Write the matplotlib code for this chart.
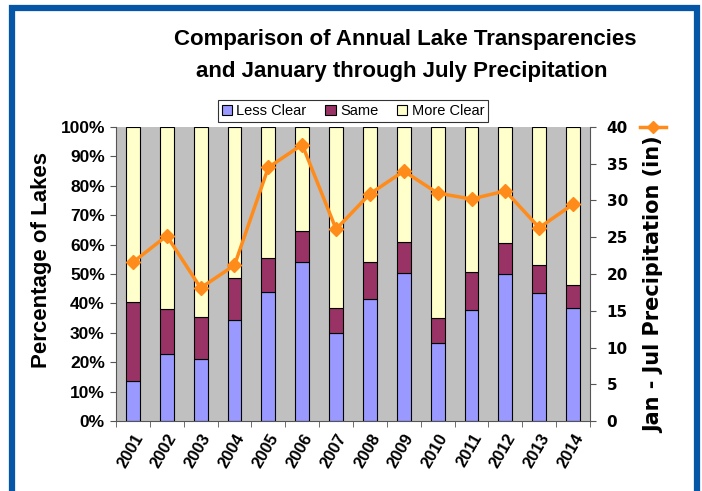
import matplotlib
matplotlib.use("Agg")
import matplotlib.pyplot as plt
from matplotlib.patches import Rectangle, Patch
from matplotlib.lines import Line2D
import numpy as np

years = ["2001", "2002", "2003", "2004", "2005", "2006", "2007",
         "2008", "2009", "2010", "2011", "2012", "2013", "2014"]
less_clear = [13.7, 22.8, 21.0, 34.2, 43.8, 54.2, 29.9, 41.4, 50.3, 26.6, 37.7, 49.9, 43.6, 38.4]
same_top = [40.6, 38.0, 35.3, 48.7, 55.5, 64.6, 38.3, 54.0, 61.0, 35.0, 50.6, 60.5, 53.0, 46.1]
same = [s - l for s, l in zip(same_top, less_clear)]
more_clear = [100 - s for s in same_top]
precip = [21.6, 25.2, 18.1, 21.2, 34.5, 37.6, 26.1, 30.9, 34.0, 31.0, 30.2, 31.3, 26.3, 29.5]

c_less = "#9999FF"
c_same = "#993366"
c_more = "#FFFFCC"
c_line = "#FF8C1A"
sans = ["Liberation Sans", "DejaVu Sans"]

fig = plt.figure(figsize=(7.02, 4.91), dpi=100)
fig.patch.set_facecolor("white")

# blue frame
fig.patches.append(Rectangle((12 / 702, -0.05), (697 - 12) / 702, (491 - 8.5) / 491 + 0.05,
                             transform=fig.transFigure, fill=False,
                             edgecolor="#0656A8", linewidth=4.5, zorder=0))

ax = fig.add_axes([116 / 702, 70 / 491, 474 / 702, 294 / 491])
ax.set_facecolor("#C0C0C0")
x = np.arange(len(years))
w = 0.41
ax.bar(x, less_clear, w, color=c_less, edgecolor="black", linewidth=0.8, label="Less Clear")
ax.bar(x, same, w, bottom=less_clear, color=c_same, edgecolor="black", linewidth=0.8, label="Same")
ax.bar(x, more_clear, w, bottom=same_top, color=c_more, edgecolor="black", linewidth=0.8, label="More Clear")
ax.set_xlim(-0.5, len(years) - 0.5)
ax.set_ylim(0, 100)
ax.set_yticks(np.arange(0, 101, 10))
ax.set_yticklabels([f"{v}%" for v in range(0, 101, 10)], fontsize=12.5, fontweight="bold",
                   family=sans)
ax.set_xticks(x)
ax.set_xticklabels(years, rotation=60, ha="right", rotation_mode="anchor", fontsize=12,
                   fontweight="bold", family=sans)
ax.set_xticks(np.arange(-0.5, len(years), 1), minor=True)
ax.tick_params(axis="x", which="major", length=0, pad=7)
ax.tick_params(axis="x", which="minor", length=4, direction="out", color="#555555")
ax.tick_params(axis="y", length=4, color="#555555", pad=4)
for s in ["top", "right"]:
    ax.spines[s].set_visible(False)
ax.spines["left"].set_color("#555555")
ax.spines["bottom"].set_color("#555555")
ax.set_ylabel("Percentage of Lakes", fontsize=16, fontweight="bold", family=sans)
ax.yaxis.set_label_coords(-64 / 474, 0.548)

ax2 = ax.twinx()
ax2.plot(x, precip, color=c_line, linewidth=2.5, marker="D", markersize=7.5)
ax2.set_ylim(0, 40)
ax2.set_yticks(np.arange(0, 41, 5))
ax2.set_yticklabels([str(v) for v in range(0, 41, 5)], fontsize=11, fontweight="bold",
                    family=["DejaVu Sans"])
ax2.tick_params(axis="y", length=4, color="#555555", pad=8)
for s in ["top", "left", "bottom"]:
    ax2.spines[s].set_visible(False)
ax2.spines["right"].set_color("#555555")
ax2.set_ylabel("Jan - Jul Precipitation (in)", fontsize=15, fontweight="bold",
               family=["DejaVu Sans"])
ax2.yaxis.set_label_coords(1 + 54 / 474, 0.462)

fig.text(405 / 702, 1 - 40 / 491, "Comparison of Annual Lake Transparencies",
         ha="center", va="center", fontsize=16, fontweight="bold",
         family=["Liberation Sans Narrow", "Liberation Sans", "DejaVu Sans"])
fig.text(402 / 702, 1 - 72 / 491, "and January through July Precipitation",
         ha="center", va="center", fontsize=16, fontweight="bold",
         family=["Liberation Sans Narrow", "Liberation Sans", "DejaVu Sans"])

handles = [Patch(facecolor=c_less, edgecolor="black", linewidth=0.8),
           Patch(facecolor=c_same, edgecolor="black", linewidth=0.8),
           Patch(facecolor=c_more, edgecolor="black", linewidth=0.8)]
leg = fig.legend(handles, ["Less Clear", "Same", "More Clear"], ncol=3,
                 loc="center", bbox_to_anchor=(353 / 702, 1 - 111 / 491),
                 frameon=True, fancybox=False, edgecolor="black",
                 handlelength=0.7, handleheight=0.7, handletextpad=0.3, columnspacing=1.3,
                 borderpad=0.25, prop={"family": sans, "size": 10.5})
leg.get_frame().set_linewidth(0.8)

# precipitation legend key at right
fig.lines.append(Line2D([640 / 702, 653 / 702, 666 / 702], [1 - 127 / 491] * 3,
                        transform=fig.transFigure, color=c_line, linewidth=2.5,
                        marker="D", markersize=6, markevery=[1]))

fig.savefig("out.png", dpi=100)
